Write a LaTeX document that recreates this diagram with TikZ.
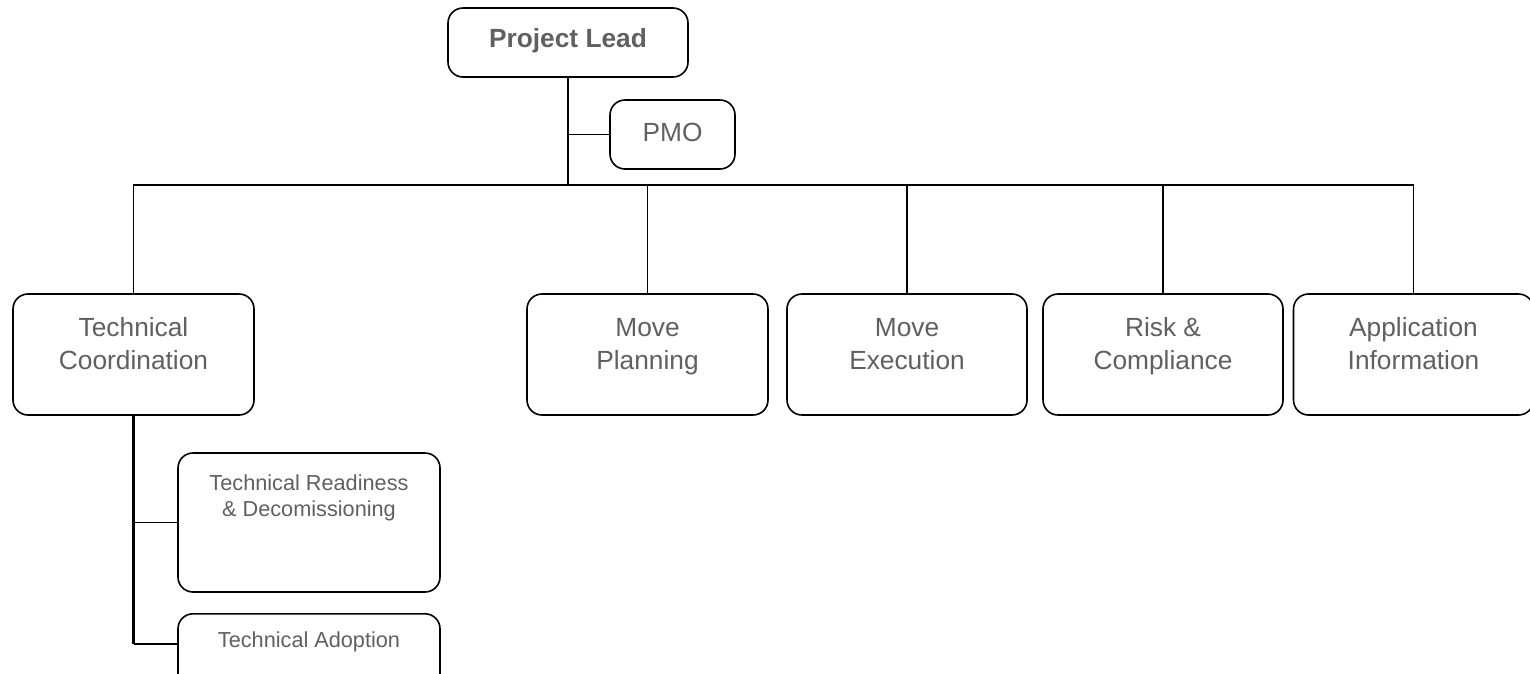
\documentclass[tikz,border=0pt]{standalone}
\usepackage{fontspec}
\setmainfont{Liberation Sans}
\definecolor{txtgray}{HTML}{606060}
\tikzset{
  box/.style={draw=black, line width=1.6pt, rounded corners=15pt, inner sep=0pt, fill=white},
  conn/.style={draw=black, line width=1.6pt},
  trunk/.style={draw=black, line width=2.6pt},
  big/.style={text=txtgray, inner sep=0pt, align=center, font=\fontsize{26.3}{33}\selectfont},
  small/.style={text=txtgray, inner sep=0pt, align=center, font=\fontsize{21.7}{26}\selectfont},
}
\begin{document}
\begin{tikzpicture}[x=1pt,y=-1pt]
\useasboundingbox (0,0) rectangle (1530,673);
\clip (0,0) rectangle (1530,673);
\coordinate (bus) at (568,185);
\node[box, minimum width=240, minimum height=69] (pl) at (568,42.5) {};
\node[box, minimum width=125, minimum height=69] (pmo) at (672.5,134.5) {};
\node[box, minimum width=241, minimum height=121] (tc) at (133.5,354.5) {};
\node[box, minimum width=241, minimum height=121] (mp) at (647.5,354.5) {};
\node[box, minimum width=240, minimum height=121] (me) at (907,354.5) {};
\node[box, minimum width=240, minimum height=121] (rc) at (1163,354.5) {};
\node[box, minimum width=240, minimum height=121] (ai) at (1413.5,354.5) {};
\node[box, minimum width=262, minimum height=139] (tr) at (309,522.5) {};
\node[box, minimum width=262, minimum height=80, anchor=north] (ta) at (309,613) {};
\coordinate (taj) at (133,644);

\draw[trunk] (pl.south) -- (bus);
\draw[conn] (pmo.west) -- (pmo.west -| pl.south);
\draw[conn] (tc.north) -- (tc.north |- bus) -- (ai.north |- bus) -- (ai.north);
\draw[conn] (mp.north) -- (mp.north |- bus);
\draw[conn] (me.north) -- (me.north |- bus);
\draw[conn] (rc.north) -- (rc.north |- bus);
\draw[trunk] (tc.south) -- (tc.south |- taj);
\draw[conn] (tc.south |- taj) -- (ta.west |- taj);
\draw[conn] (tc.south |- tr.west) -- (tr.west);

\node[big, font=\bfseries\fontsize{26.3}{33}\selectfont] (plt) at (568,40.4) {\strut Project Lead\strut};
\node[big] (pmot) at (672.5,134.4) {\strut PMO\strut};
\node[big] (tct) at (133.5,345.9) {\strut Technical\\Coordination\strut};
\node[big] (mpt) at (647.5,345.9) {\strut Move\\Planning\strut};
\node[big] (met) at (907,345.9) {\strut Move\\Execution\strut};
\node[big] (rct) at (1163,345.9) {\strut Risk \&\\Compliance\strut};
\node[big] (ait) at (1413.5,345.9) {\strut Application\\Information\strut};
\node[small] (trt) at (309,498.3) {\strut Technical Readiness\\\& Decomissioning\strut};
\node[small] (tat) at (309,642.3) {\strut Technical Adoption\strut};
\end{tikzpicture}
\end{document}
